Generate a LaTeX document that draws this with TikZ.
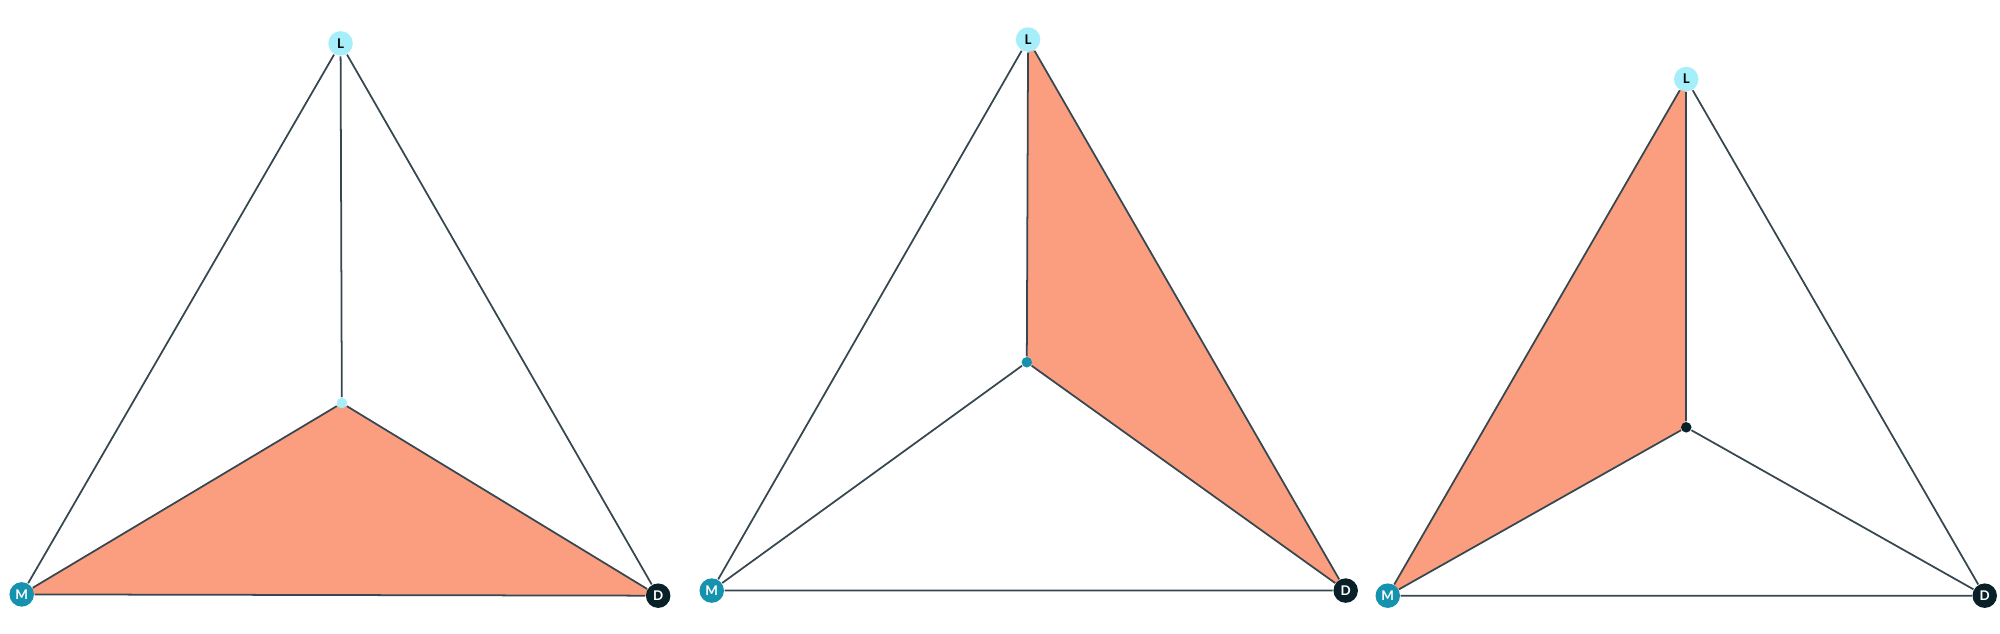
\documentclass[tikz,border=0pt]{standalone}
\usepackage{fontspec}
\setsansfont{Lato}
\definecolor{salmon}{RGB}{251,158,128}
\definecolor{lcyan}{RGB}{166,238,250}
\definecolor{mteal}{RGB}{21,146,173}
\definecolor{ddark}{RGB}{8,32,40}
\definecolor{edgegray}{RGB}{55,71,79}
\tikzset{vert/.style={circle,inner sep=0pt,minimum size=0.245cm,font=\sffamily\bfseries\fontsize{3.8}{4}\selectfont},
  mid/.style={circle,inner sep=0pt,minimum size=0.105cm},
  edge/.style={draw=edgegray,line width=0.5pt}}
\begin{document}
\begin{tikzpicture}[x=0.012755cm,y=-0.012755cm]
\useasboundingbox (0,0) rectangle (1568,496.3);
\coordinate (l1) at (267,34); \coordinate (m1) at (17,466); \coordinate (d1) at (516,467); \coordinate (p1) at (268,316);
\coordinate (l2) at (806,31); \coordinate (m2) at (558,463); \coordinate (d2) at (1055,463); \coordinate (p2) at (805,284);
\coordinate (l3) at (1322,62); \coordinate (m3) at (1088,467); \coordinate (d3) at (1556,467); \coordinate (p3) at (1322,335);
% shaded faces
\fill[salmon] (m1) -- (p1) -- (d1) -- cycle;
\fill[salmon] (l2) -- (p2) -- (d2) -- cycle;
\fill[salmon] (m3) -- (l3) -- (p3) -- cycle;
% left
\node[vert,fill=lcyan,text=black] (L1) at (l1) {L};
\node[vert,fill=mteal,text=white] (M1) at (m1) {M};
\node[vert,fill=ddark,text=white] (D1) at (d1) {D};
\node[mid,fill=lcyan] (P1) at (p1) {};
\draw[edge] (L1) -- (M1) -- (D1) -- (L1);
\draw[edge] (P1) -- (L1); \draw[edge] (P1) -- (M1); \draw[edge] (P1) -- (D1);
% middle
\node[vert,fill=lcyan,text=black] (L2) at (l2) {L};
\node[vert,fill=mteal,text=white] (M2) at (m2) {M};
\node[vert,fill=ddark,text=white] (D2) at (d2) {D};
\node[mid,fill=mteal] (P2) at (p2) {};
\draw[edge] (L2) -- (M2) -- (D2) -- (L2);
\draw[edge] (P2) -- (L2); \draw[edge] (P2) -- (M2); \draw[edge] (P2) -- (D2);
% right
\node[vert,fill=lcyan,text=black] (L3) at (l3) {L};
\node[vert,fill=mteal,text=white] (M3) at (m3) {M};
\node[vert,fill=ddark,text=white] (D3) at (d3) {D};
\node[mid,fill=ddark] (P3) at (p3) {};
\draw[edge] (L3) -- (M3) -- (D3) -- (L3);
\draw[edge] (P3) -- (L3); \draw[edge] (P3) -- (M3); \draw[edge] (P3) -- (D3);
\end{tikzpicture}
\end{document}
